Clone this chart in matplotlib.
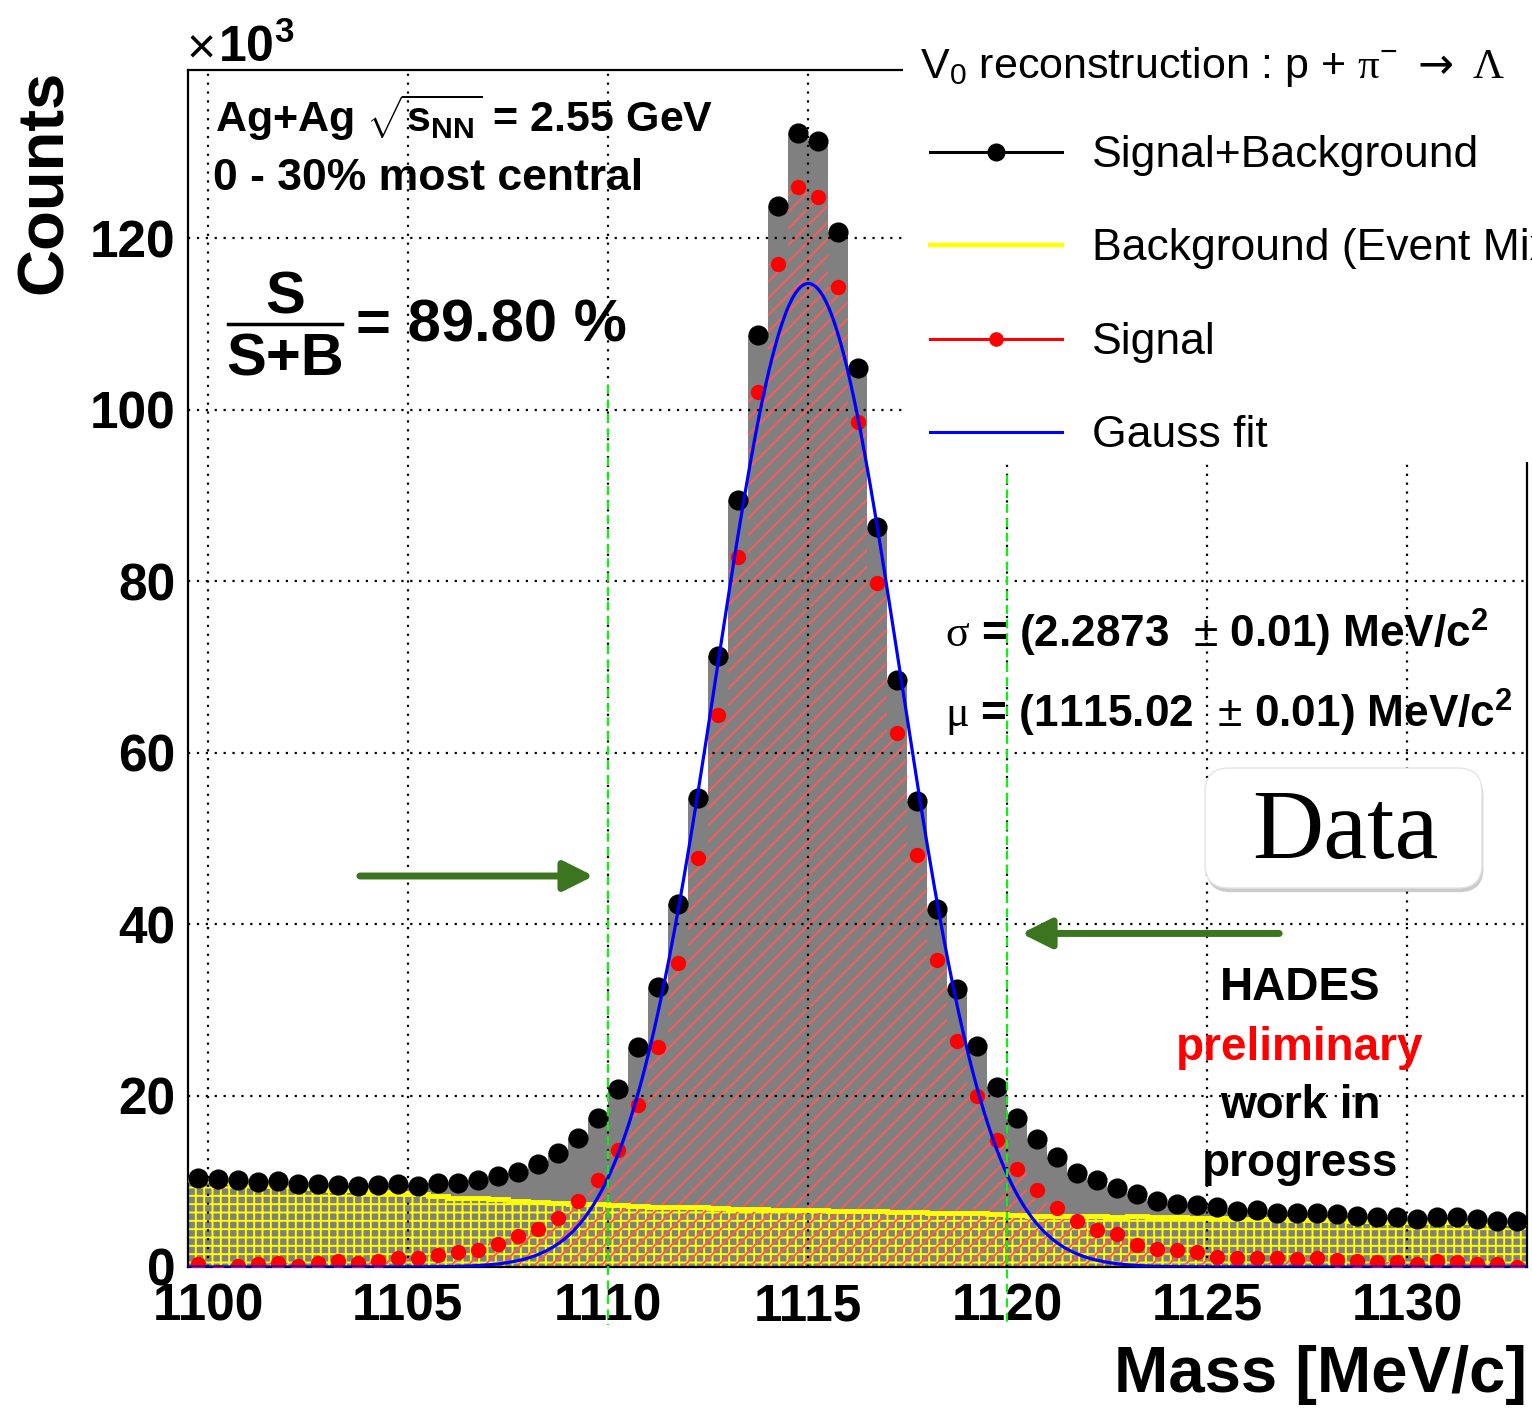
import numpy as np
import matplotlib
matplotlib.use("Agg")
import matplotlib.pyplot as plt
from matplotlib.lines import Line2D
from matplotlib.patches import Rectangle, FancyBboxPatch
from matplotlib.transforms import IdentityTransform
import matplotlib.patheffects as pe

plt.rcParams['font.family'] = ['Liberation Sans', 'DejaVu Sans']
plt.rcParams['mathtext.fontset'] = 'custom'
plt.rcParams['mathtext.rm'] = 'Liberation Sans'
plt.rcParams['mathtext.it'] = 'Liberation Sans:italic'
plt.rcParams['mathtext.bf'] = 'Liberation Sans:bold'
plt.rcParams['mathtext.sf'] = 'Liberation Serif'
plt.rcParams['mathtext.tt'] = 'DejaVu Sans'
plt.rcParams['hatch.linewidth'] = 1.4

# binning: 0.5 MeV bins from 1099.5 to 1133.0
edges = np.arange(1099.5, 1133.01, 0.5)
centers = edges[:-1] + 0.25

# counts in units of 10^3
sig_bkg = [10.4, 10.25, 10.1, 9.9, 10.05, 9.7, 9.7, 9.6, 9.5, 9.6,
           9.7, 9.5, 9.8, 9.8, 10.2, 10.6, 11.1, 12.0, 13.3, 15.0,
           17.4, 20.8, 25.7, 32.6, 42.3, 54.7, 71.3, 89.5, 108.7, 123.7,
           132.3, 131.3, 120.7, 104.8, 86.3, 68.5, 54.3, 41.8, 32.4, 25.8,
           21.0, 17.4, 14.9, 12.8, 11.0, 10.2, 9.2, 8.5, 7.7, 7.4,
           7.2, 7.0, 6.5, 6.7, 6.3, 6.3, 6.3, 6.2, 6.0, 5.8,
           5.8, 5.6, 5.8, 5.8, 5.6, 5.4, 5.4]
signal = [0.3, -0.6, 0.1, 0.3, 0.5, 0.15, 0.5, 0.7, 0.5, 0.7,
          1.05, 1.05, 1.4, 1.7, 2.0, 2.7, 3.6, 4.4, 5.7, 7.65,
          10.1, 13.7, 18.9, 25.6, 35.5, 47.7, 64.4, 82.8, 102.0, 117.0,
          125.9, 124.8, 114.3, 98.5, 79.8, 62.3, 48.0, 35.8, 26.3, 19.9,
          14.8, 11.4, 9.0, 6.9, 5.4, 4.3, 3.8, 2.6, 2.1, 2.0,
          1.7, 1.2, 1.0, 1.0, 1.0, 0.9, 1.0, 0.8, 0.65, 0.6,
          0.6, 0.4, 0.65, 0.6, 0.4, 0.4, 0.0]
background = [10.1, 10.1, 9.9, 9.7, 9.5, 9.4, 9.2, 9.0, 9.0, 8.8,
              8.6, 8.5, 8.3, 8.1, 8.1, 7.9, 7.7, 7.6, 7.5, 7.4,
              7.3, 7.2, 7.1, 7.0, 7.0, 7.0, 6.9, 6.8, 6.8, 6.7,
              6.6, 6.6, 6.5, 6.5, 6.5, 6.4, 6.4, 6.3, 6.3, 6.3,
              6.2, 6.1, 6.0, 6.0, 5.9, 5.9, 5.8, 5.9, 5.8, 5.8,
              5.7, 5.7, 5.6, 5.6, 5.6, 5.5, 5.5, 5.5, 5.4, 5.4,
              5.3, 5.3, 5.3, 5.2, 5.2, 5.1, 5.1]

# gauss fit parameters
fit_amp = 114.7
fit_mu = 1115.02
fit_sigma = 2.2873

# mass window marked by the green lines
window = [1110, 1120]
window_top = [102.9, 92.4]

W, H = 1532, 1409
fig = plt.figure(figsize=(W / 100, H / 100), dpi=100)


def fx(px):
    return px / W


def fy(py):
    return 1 - py / H


ax = fig.add_axes([fx(188), fy(1267), (1527 - 188) / W, (1267 - 70) / H])

ax.stairs(sig_bkg, edges, fill=True, facecolor='#808080', linewidth=0, zorder=1)
ax.stairs(background, edges, fill=True, facecolor='none', edgecolor='#ffff00',
          hatch='++', linewidth=0, zorder=1.2)
ax.stairs(signal, edges, fill=True, facecolor='none', edgecolor='#ff5a5a',
          hatch='//', linewidth=0, zorder=1.4)
ax.stairs(background, edges, baseline=None, color='#ffff00', linewidth=3.5, zorder=3)

ax.plot(centers, sig_bkg, 'o', color='black', ms=13.5, zorder=4)
ax.plot(centers, signal, 'o', color='red', ms=10, zorder=4)

xf = np.linspace(edges[0], edges[-1], 800)
ax.plot(xf, fit_amp * np.exp(-0.5 * ((xf - fit_mu) / fit_sigma) ** 2),
        color='#0000ff', lw=2.3, zorder=5)

for xw, top in zip(window, window_top):
    ax.plot([xw, xw], [top, -6.8], color='#11ee11', lw=1.6,
            dashes=(4, 2.5), clip_on=False, zorder=6)

ax.set_xlim(edges[0], edges[-1])
ax.set_ylim(0, 139.6)
ax.set_xticks([1100, 1105, 1110, 1115, 1120, 1125, 1130])
ax.set_yticks([0, 20, 40, 60, 80, 100, 120])
ax.tick_params(length=0, labelsize=37)
ax.tick_params(axis='x', pad=11)
ax.tick_params(axis='y', pad=9)
for lab in ax.get_xticklabels() + ax.get_yticklabels():
    lab.set_fontweight('bold')
ax.set_axisbelow(False)
ax.grid(True, color='black', linestyle=(0, (1, 3)), linewidth=1.6)
for sp in ax.spines.values():
    sp.set_linewidth(1.6)

# arrows pointing at the mass window
arrow_props = dict(arrowstyle='-|>,head_length=0.9,head_width=0.45',
                   mutation_scale=20, lw=5, color='#3b7520', shrinkA=0, shrinkB=0)
ax.annotate('', xy=(1109.65, 45.6), xytext=(1103.8, 45.6), arrowprops=arrow_props, zorder=6)
ax.annotate('', xy=(1120.35, 38.9), xytext=(1126.8, 38.9), arrowprops=arrow_props, zorder=6)

# axis titles
fig.text(fx(45), fy(70), 'Counts', rotation=90, ha='center', va='top',
         fontsize=47, fontweight='bold')
fig.text(fx(1527), fy(1392), 'Mass [MeV/c]', ha='right', va='baseline',
         fontsize=47, fontweight='bold')
fig.text(fx(186), fy(62), r'$\times$', ha='left', va='baseline', fontsize=36)
fig.text(fx(218), fy(62), r'10$^{\mathbf{3}}$', ha='left', va='baseline',
         fontsize=36, fontweight='bold')

# info texts
fig.text(fx(215), fy(132), r'Ag+Ag $\sqrt{\mathbf{s}_{\mathbf{NN}}}$ = 2.55 GeV',
         ha='left', va='baseline', fontsize=31, fontweight='bold')
fig.text(fx(213), fy(190), '0 - 30% most central', ha='left', va='baseline',
         fontsize=32, fontweight='bold')
fig.text(fx(285), fy(313), 'S', ha='center', va='baseline', fontsize=43, fontweight='bold')
fig.add_artist(Line2D([fx(228), fx(342)], [fy(324), fy(324)], color='black', lw=2.5))
fig.text(fx(285), fy(375), 'S+B', ha='center', va='baseline', fontsize=43, fontweight='bold')
fig.text(fx(356), fy(342), '= 89.80 %', ha='left', va='baseline', fontsize=43,
         fontweight='bold')

fig.text(fx(945), fy(648), r'$\mathsf{\sigma}$ = (2.2873  $\pm$ 0.01) MeV/c$^{\mathbf{2}}$',
         ha='left', va='baseline', fontsize=31.8, fontweight='bold')
fig.text(fx(945), fy(728), r'$\mathsf{\mu}$ = (1115.02  $\pm$ 0.01) MeV/c$^{\mathbf{2}}$',
         ha='left', va='baseline', fontsize=31.8, fontweight='bold')

for txt, yy, col in [('HADES', 1000, 'black'), ('preliminary', 1060, 'red'),
                     ('work in', 1118, 'black'), ('progress', 1176, 'black')]:
    fig.text(fx(1300), fy(yy), txt, ha='center', va='baseline', fontsize=33,
             fontweight='bold', color=col)

# "Data" box
box = FancyBboxPatch((1205, H - 888), 277, 120, boxstyle='round,pad=0,rounding_size=24',
                     transform=IdentityTransform(), facecolor='white',
                     edgecolor='#e4e4e4', lw=1, zorder=7,
                     path_effects=[pe.SimplePatchShadow(offset=(1, -3), shadow_rgbFace='#999999',
                                                        alpha=0.5), pe.Normal()])
fig.add_artist(box)
fig.text(fx(1345), fy(858), 'Data', ha='center', va='baseline', fontsize=71,
         family='Liberation Serif', zorder=8)

# legend area
fig.add_artist(Rectangle((fx(903), fy(462)), 1 - fx(903), fy(20) - fy(462),
                         transform=fig.transFigure, facecolor='white',
                         edgecolor='none', zorder=1))
fig.text(fx(920), fy(78),
         r'V$_{0}$ reconstruction : p + $\mathsf{\pi}^{-}$ $\mathtt{\rightarrow}$ $\mathsf{\Lambda}$',
         ha='left', va='baseline', fontsize=31, zorder=2)
legend_rows = [('Signal+Background', 'black', 12, 152, 2.2),
               ('Background (Event Mixing)', '#ffff00', 0, 245, 3.2),
               ('Signal', 'red', 9.5, 339, 2.2),
               ('Gauss fit', '#0000ff', 0, 432, 2.2)]
for name, col, ms, yy, lw in legend_rows:
    fig.add_artist(Line2D([fx(930), fx(1062)], [fy(yy), fy(yy)], color=col, lw=lw, zorder=2))
    if ms:
        fig.add_artist(Line2D([fx(996)], [fy(yy)], marker='o', ms=ms, color=col, zorder=2))
    fig.text(fx(1092), fy(yy + 15), name, ha='left', va='baseline', fontsize=32, zorder=2)

fig.savefig('out.png', dpi=100)
